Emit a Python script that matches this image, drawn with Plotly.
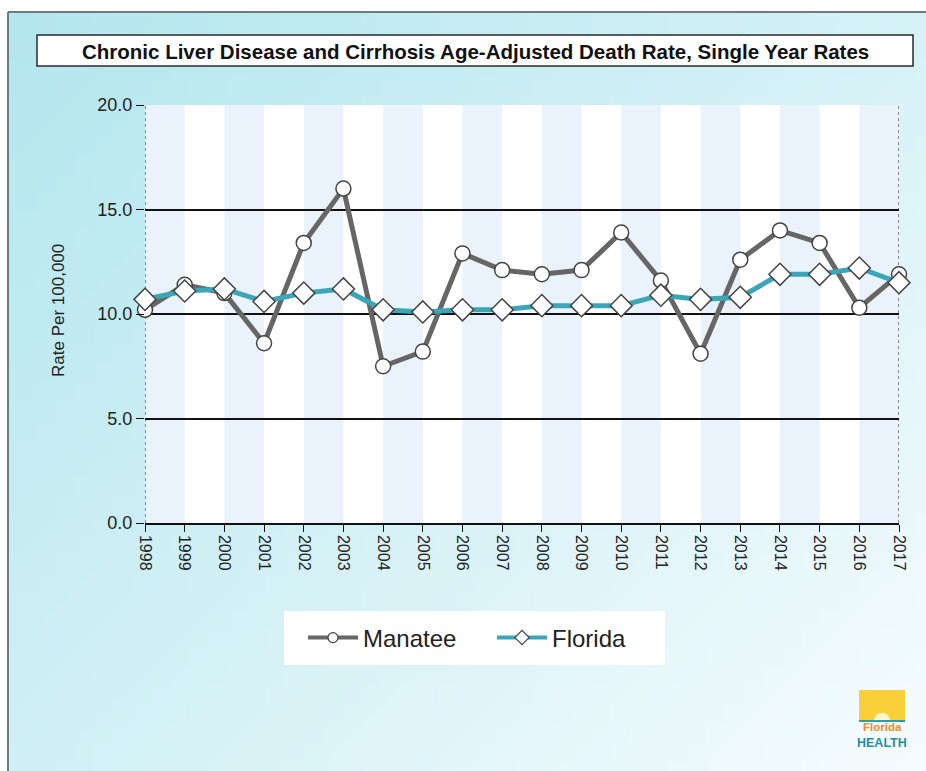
import base64
import struct
import zlib

import plotly.graph_objects as go

# ---- data -------------------------------------------------------------
years = list(range(1998, 2018))
manatee = [10.2, 11.4, 11.0, 8.6, 13.4, 16.0, 7.5, 8.2, 12.9, 12.1,
           11.9, 12.1, 13.9, 11.6, 8.1, 12.6, 14.0, 13.4, 10.3, 11.9]
florida = [10.7, 11.1, 11.2, 10.6, 11.0, 11.2, 10.2, 10.1, 10.2, 10.2,
           10.4, 10.4, 10.4, 10.9, 10.7, 10.8, 11.9, 11.9, 12.2, 11.5]
y_ticks = [0, 5, 10, 15, 20]
title_text = "Chronic Liver Disease and Cirrhosis Age-Adjusted Death Rate, Single Year Rates"

# ---- page geometry (pixels) ------------------------------------------
FIG_W, FIG_H = 926, 771
L, R, T, B = 145, 899, 105, 523
PW, PH = R - L, B - T


def px(x):
    return (x - L) / PW


def py(y):
    return (B - y) / PH


# ---- soft cyan gradient backdrop, built as a tiny PNG -------------------
def gradient_png(w, h):
    tl = (180, 230, 238)
    tr = (214, 242, 247)
    bl = (208, 240, 245)
    br = (246, 252, 254)
    rows = b""
    for j in range(h):
        v = j / (h - 1)
        row = b"\x00"
        for i in range(w):
            u = i / (w - 1)
            c = []
            for k in range(3):
                top = tl[k] * (1 - u) + tr[k] * u
                bot = bl[k] * (1 - u) + br[k] * u
                c.append(int(round(top * (1 - v) + bot * v)))
            row += bytes(c)
        rows += row

    def chunk(tag, data):
        return (struct.pack(">I", len(data)) + tag + data
                + struct.pack(">I", zlib.crc32(tag + data) & 0xFFFFFFFF))

    png = b"\x89PNG\r\n\x1a\n"
    png += chunk(b"IHDR", struct.pack(">IIBBBBB", w, h, 8, 2, 0, 0, 0))
    png += chunk(b"IDAT", zlib.compress(rows, 9))
    png += chunk(b"IEND", b"")
    return "data:image/png;base64," + base64.b64encode(png).decode()


series = [
    dict(name="Manatee", values=manatee, color="#666666", symbol="circle", size=15),
    dict(name="Florida", values=florida, color="#3AA6B8", symbol="diamond", size=17),
]

fig = go.Figure()
for s in series:
    fig.add_trace(go.Scatter(
        x=years, y=s["values"], name=s["name"], mode="lines+markers",
        line=dict(color=s["color"], width=5),
        marker=dict(symbol=s["symbol"], size=s["size"], color="white",
                    line=dict(color="#444444", width=1.5)),
        cliponaxis=False, showlegend=False,
    ))
# legend keys use smaller markers than the plotted series
for s in series:
    fig.add_trace(go.Scatter(
        x=[None], y=[None], name=s["name"], mode="lines+markers",
        line=dict(color=s["color"], width=4),
        marker=dict(symbol=s["symbol"], size=10 if s["symbol"] == "circle" else 11,
                    color="white", line=dict(color="#444444", width=1.2)),
        showlegend=True,
    ))

shapes = []
# white plot area
shapes.append(dict(type="rect", xref="x", yref="y", x0=years[0], x1=years[-1],
                   y0=0, y1=20, fillcolor="white", line=dict(width=0), layer="below"))
# alternating column bands
for start in years[0:-1:2]:
    shapes.append(dict(type="rect", xref="x", yref="y", x0=start, x1=start + 1,
                       y0=0, y1=20, fillcolor="#EAF3FC", line=dict(width=0),
                       layer="below"))
# dotted side edges of the plot area
for xv in (years[0], years[-1]):
    shapes.append(dict(type="line", xref="x", yref="y", x0=xv, x1=xv, y0=0, y1=20,
                       line=dict(color="#222222", width=1, dash="dot"), layer="below"))
# outer frame (left and top)
shapes.append(dict(type="line", xref="paper", yref="paper",
                   x0=px(8), x1=px(8), y0=py(12), y1=py(FIG_H),
                   line=dict(color="#6E7B7E", width=2)))
shapes.append(dict(type="line", xref="paper", yref="paper",
                   x0=px(8), x1=px(FIG_W), y0=py(12), y1=py(12),
                   line=dict(color="#6E7B7E", width=2)))
# title box
shapes.append(dict(type="rect", xref="paper", yref="paper",
                   x0=px(37), x1=px(913), y0=py(66), y1=py(35),
                   fillcolor="white", line=dict(color="#2A2A2A", width=1.5)))
# legend panel
shapes.append(dict(type="rect", xref="paper", yref="paper",
                   x0=px(284), x1=px(665), y0=py(665), y1=py(611),
                   fillcolor="white", line=dict(width=0), layer="below"))
# logo block
shapes.append(dict(type="rect", xref="paper", yref="paper",
                   x0=px(859), x1=px(905), y0=py(721), y1=py(690),
                   fillcolor="#F9CF3A", line=dict(width=0)))
shapes.append(dict(type="circle", xref="paper", yref="paper",
                   x0=px(874), x1=px(890), y0=py(729), y1=py(713),
                   fillcolor="#FFF6D0", line=dict(width=0)))
shapes.append(dict(type="rect", xref="paper", yref="paper",
                   x0=px(855), x1=px(909), y0=py(733), y1=py(721),
                   fillcolor="#F4FAFC", line=dict(width=0)))
shapes.append(dict(type="line", xref="paper", yref="paper",
                   x0=px(859), x1=px(905), y0=py(721), y1=py(721),
                   line=dict(color="#2E9CB0", width=2)))

annotations = [
    dict(text=f"<b>{title_text}</b>", xref="paper", yref="paper",
         x=px(475), y=py(51), xanchor="center", yanchor="middle", showarrow=False,
         font=dict(family="Arial, Liberation Sans", size=20.5, color="#111111")),
    dict(text="Rate Per 100,000", xref="paper", yref="paper",
         x=px(58), y=py(311), xanchor="center", yanchor="middle", showarrow=False,
         textangle=-90, font=dict(family="Arial, Liberation Sans", size=17, color="#222222")),
    dict(text="<b>Florida</b>", xref="paper", yref="paper",
         x=px(882), y=py(727), xanchor="center", yanchor="middle", showarrow=False,
         font=dict(family="Arial, Liberation Sans", size=11.5, color="#F08A24")),
    dict(text="<b>HEALTH</b>", xref="paper", yref="paper",
         x=px(882), y=py(743), xanchor="center", yanchor="middle", showarrow=False,
         font=dict(family="Arial, Liberation Sans", size=12.5, color="#1E8FA8")),
]

fig.update_layout(
    width=FIG_W, height=FIG_H,
    margin=dict(l=L, r=FIG_W - R, t=T, b=FIG_H - B, pad=0),
    paper_bgcolor="white",
    plot_bgcolor="white",
    font=dict(family="Arial, Liberation Sans", color="#222222"),
    showlegend=True,
    legend=dict(orientation="h", x=px(303), y=py(638), xanchor="left", yanchor="middle",
                bgcolor="rgba(0,0,0,0)", borderwidth=0,
                font=dict(size=24, color="#222222"),
                itemwidth=50, entrywidth=124, entrywidthmode="pixels",
                traceorder="normal"),
    shapes=shapes,
    annotations=annotations,
    images=[dict(source=gradient_png(48, 40), xref="paper", yref="paper",
                 x=px(8), y=py(12), sizex=(FIG_W - 8) / PW, sizey=(FIG_H - 12) / PH,
                 xanchor="left", yanchor="top", sizing="stretch", layer="below")],
    hovermode=False,
)

fig.update_xaxes(
    range=[years[0], years[-1]], tickmode="array", tickvals=years,
    ticktext=[str(y) for y in years], tickangle=90,
    ticks="outside", ticklen=7, tickcolor="#111111", tickwidth=1,
    showline=True, linecolor="#111111", linewidth=1.5,
    showgrid=False, zeroline=False,
    tickfont=dict(size=16, color="#222222"),
)
fig.update_yaxes(
    range=[0, 20], tickmode="array", tickvals=y_ticks,
    ticktext=[f"{v:.1f}" for v in y_ticks],
    ticks="outside", ticklen=8, tickcolor="#111111", tickwidth=1,
    showgrid=True, gridcolor="#111111", gridwidth=1.5,
    showline=False, zeroline=False,
    tickfont=dict(size=18, color="#222222"),
)

fig.write_html("out.html")
